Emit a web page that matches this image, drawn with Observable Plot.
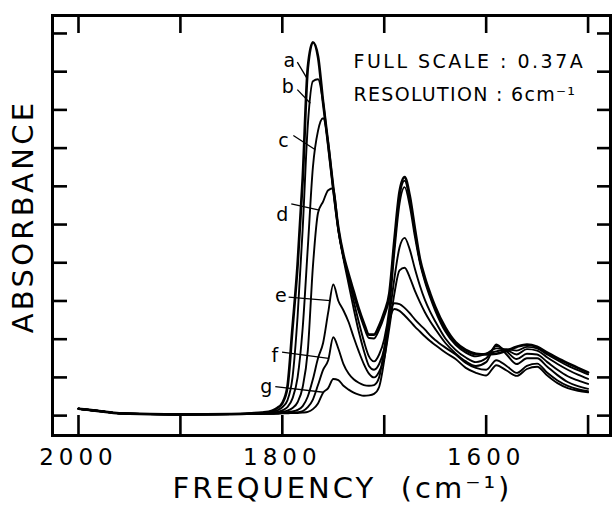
<!DOCTYPE html>
<html>
<head>
<meta charset="utf-8">
<script src="https://cdn.jsdelivr.net/npm/d3@7"></script>
<script src="https://cdn.jsdelivr.net/npm/@observablehq/plot@0.6"></script>
<style>
  html, body { margin: 0; padding: 0; background: #fff; }
  #chart { width: 614px; height: 512px; }
</style>
</head>
<body>
<div id="chart"></div>
<script>
// ---- data (frequency grid in cm^-1, absorbance in tick units) ----
const freq = [2000,1980,1960,1900,1850,1830,1820,
  1810,1805,1800,1795,1790,1785,1780,1775,1770,1765,1760,1755,1750,1745,1740,1735,1730,1725,1720,1715,1710,1705,1700,1695,1690,1685,1680,1675,1670,1665,1660,1655,1650,
  1640,1630,1620,1610,1600,1590,1580,1570,1560,1550,1540,1530,1520,1510,1500];

const curveA = [0.18,0.12,0.06,0.03,0.04,0.06,0.08,
  0.13,0.2,0.33,0.75,2.3,3.95,6.2,9.1,9.77,9.4,8.2,7.1,5.95,4.9,4.2,3.7,3.25,2.8,2.42,2.12,2.12,2.35,2.7,3.2,4.6,5.85,6.24,5.75,4.9,4.1,3.6,3.2,2.85,
  2.3,1.92,1.72,1.62,1.6,1.62,1.7,1.8,1.86,1.8,1.65,1.5,1.37,1.25,1.13];
const curveB = [0.18,0.12,0.06,0.03,0.04,0.05,0.07,
  0.1,0.14,0.22,0.4,1.0,2.6,4.9,7.6,8.75,8.8,8.2,7.05,5.9,4.85,4.15,3.62,3.15,2.72,2.33,2.03,2.02,2.25,2.6,3.1,4.5,5.75,6.15,5.65,4.82,4.05,3.55,3.15,2.8,
  2.26,1.9,1.7,1.6,1.62,1.68,1.74,1.7,1.8,1.76,1.6,1.45,1.31,1.19,1.08];
const curveC = [0.18,0.12,0.06,0.03,0.04,0.05,0.06,
  0.08,0.1,0.14,0.22,0.45,1.0,2.3,4.4,6.5,7.45,7.78,7.15,5.95,4.9,4.15,3.6,3.0,2.45,1.95,1.55,1.42,1.6,2.0,2.8,4.3,5.55,5.98,5.5,4.7,4.0,3.5,3.1,2.75,
  2.2,1.85,1.65,1.55,1.62,1.76,1.72,1.6,1.74,1.7,1.52,1.35,1.2,1.07,0.96];
const curveD = [0.18,0.12,0.06,0.03,0.04,0.05,0.06,
  0.07,0.08,0.1,0.13,0.2,0.35,0.75,1.7,3.9,5.3,5.6,5.9,5.95,4.85,4.1,3.45,2.8,2.2,1.7,1.3,1.2,1.35,1.75,2.6,3.6,4.4,4.65,4.35,3.85,3.4,3.02,2.72,2.47,
  2.02,1.72,1.52,1.4,1.5,1.82,1.68,1.48,1.62,1.6,1.4,1.2,1.03,0.92,0.83];
const curveE = [0.18,0.12,0.06,0.03,0.04,0.05,0.05,
  0.06,0.07,0.08,0.09,0.11,0.15,0.25,0.5,0.95,1.5,1.9,2.7,3.43,3.0,2.75,2.45,2.05,1.68,1.35,1.1,1.0,1.15,1.5,2.3,3.2,3.8,3.87,3.62,3.27,2.97,2.7,2.47,2.27,
  1.9,1.63,1.42,1.3,1.4,1.86,1.6,1.35,1.5,1.5,1.28,1.06,0.88,0.77,0.7];
const curveF = [0.18,0.12,0.06,0.03,0.04,0.05,0.05,
  0.05,0.06,0.07,0.08,0.08,0.09,0.12,0.22,0.42,0.8,1.2,1.45,2.05,1.75,1.35,1.1,0.95,0.86,0.8,0.78,0.8,1.0,1.75,2.6,2.94,2.92,2.82,2.68,2.52,2.38,2.25,2.1,1.98,
  1.78,1.6,1.38,1.25,1.2,1.45,1.3,1.12,1.3,1.36,1.12,0.92,0.78,0.69,0.64];
const curveG = [0.18,0.12,0.06,0.03,0.04,0.05,0.05,
  0.05,0.05,0.06,0.06,0.07,0.07,0.08,0.1,0.17,0.32,0.6,0.72,0.96,0.93,0.78,0.68,0.6,0.55,0.52,0.53,0.57,0.75,1.45,2.45,2.79,2.74,2.62,2.48,2.33,2.2,2.07,1.95,1.85,
  1.65,1.48,1.25,1.12,1.05,1.32,1.18,1.04,1.22,1.28,1.05,0.85,0.72,0.65,0.61];

const curveNames = ["a","b","c","d","e","f","g"];
const curves = [curveA, curveB, curveC, curveD, curveE, curveF, curveG];

// curve label annotations (data coordinates)
const labelFreq = [1793.1, 1794.6, 1799.0, 1800.0, 1801.5, 1807.4, 1815.7];
const labelVal  = [9.27, 8.59, 7.18, 5.26, 3.12, 1.55, 0.76];
const leaderStartFreq = [1785.3, 1785.3, 1789.2, 1791.2, 1793.8, 1800.3, 1806.9];
const leaderStartVal  = [9.25, 8.53, 7.33, 5.54, 3.10, 1.66, 0.76];
const leaderEndFreq   = [1775.5, 1772.5, 1767.6, 1763.7, 1752.9, 1754.6, 1759.5];

const xTicks = [2000, 1900, 1800, 1700, 1600, 1500];
const xTickLabelVals = [2000, 1800, 1600];
const xTickLabels = ["2000", "1800", "1600"];
const yTicks = [0,1,2,3,4,5,6,7,8,9,10];

const yTitle = "ABSORBANCE";
const xTitle = "FREQUENCY\u00a0\u00a0(cm\u207b\u00b9)";
const note1 = "FULL SCALE : 0.37A";
const note2 = "RESOLUTION : 6cm\u207b\u00b9";

// ---- layout ----
const W = 614, H = 512, mt = 15, mb = 77, ml = 52, mr = 4;
const xDom = [2025.5, 1478], yDom = [-0.52, 10.47];
const pxX = (W - ml - mr) / (xDom[0] - xDom[1]);
const pxY = (H - mt - mb) / (yDom[1] - yDom[0]);

const rows = curveNames.flatMap((n, i) => curves[i].map((v, j) => ({name: n, f: freq[j], v})));

function valueAt(vals, f) {
  for (let j = 0; j < freq.length - 1; j++) {
    if (f <= freq[j] && f >= freq[j + 1]) {
      const t = (freq[j] - f) / (freq[j] - freq[j + 1]);
      return vals[j] + (vals[j + 1] - vals[j]) * t;
    }
  }
  return vals[vals.length - 1];
}

const font = "DejaVu Sans";

const plot = Plot.plot({
  width: W, height: H,
  marginTop: mt, marginBottom: mb, marginLeft: ml, marginRight: mr,
  x: {domain: xDom, axis: null},
  y: {domain: yDom, axis: null},
  style: {fontFamily: font, background: "white", color: "black"},
  marks: [
    Plot.line(rows.filter(d => d.name !== "a"), {x: "f", y: "v", z: "name", stroke: "black", strokeWidth: 1.9, curve: "monotone-x"}),
    Plot.line(rows.filter(d => d.name === "a"), {x: "f", y: "v", z: "name", stroke: "black", strokeWidth: 2.7, curve: "monotone-x"}),
    Plot.link(curveNames, {
      x1: (d, i) => leaderStartFreq[i], y1: (d, i) => leaderStartVal[i],
      x2: (d, i) => leaderEndFreq[i], y2: (d, i) => valueAt(curves[i], leaderEndFreq[i]),
      stroke: "black", strokeWidth: 1.3
    }),
    Plot.text(curveNames, {x: (d, i) => labelFreq[i], y: (d, i) => labelVal[i], text: d => d, fontSize: 19, fill: "black"}),
    // inward ticks
    Plot.ruleX(xTicks, {x: d => d, y1: yDom[0], y2: yDom[0] + 20 / pxY, stroke: "black", strokeWidth: 2.6}),
    Plot.ruleX(xTicks, {x: d => d, y1: yDom[1], y2: yDom[1] - 18 / pxY, stroke: "black", strokeWidth: 2.6}),
    Plot.ruleY(yTicks, {y: d => d, x1: xDom[0], x2: xDom[0] - 15 / pxX, stroke: "black", strokeWidth: 2.6}),
    Plot.ruleY(yTicks, {y: d => d, x1: xDom[1], x2: xDom[1] + 13 / pxX, stroke: "black", strokeWidth: 2.6}),
    Plot.frame({stroke: "black", strokeWidth: 3}),
    // tick labels
    Plot.text(xTickLabelVals, {x: d => d, y: yDom[0], text: (d, i) => xTickLabels[i], dy: 22.6, fontSize: 23, fill: "black"}),
    // titles
    Plot.text([yTitle], {frameAnchor: "left", textAnchor: "middle", text: d => d, rotate: -90, dx: -28.3, dy: -9, fontSize: 29, fill: "black"}),
    Plot.text([xTitle], {frameAnchor: "bottom", textAnchor: "middle", text: d => d, dx: 11, dy: 62.7, fontSize: 29, fill: "black"}),
    Plot.text([note1], {frameAnchor: "top-left", textAnchor: "start", text: d => d, dx: 301, dy: 38.9, fontSize: 19, fill: "black"}),
    Plot.text([note2], {frameAnchor: "top-left", textAnchor: "start", text: d => d, dx: 301, dy: 71.9, fontSize: 19, fill: "black"})
  ]
});

document.getElementById("chart").appendChild(plot);
const spacing = new Map([
  ...xTickLabels.map(t => [t, 5]),
  [yTitle, 3.3], [xTitle, 3], [note1, 2.5], [note2, 1.3]
]);
d3.select(plot).selectAll("text").each(function() {
  const s = spacing.get(this.textContent);
  if (s != null) this.setAttribute("letter-spacing", s);
});
</script>
</body>
</html>
